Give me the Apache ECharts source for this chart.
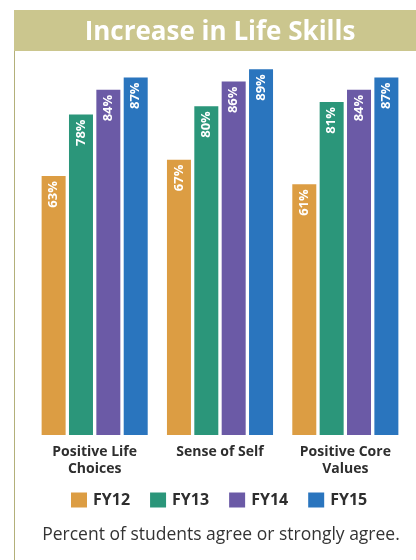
<!DOCTYPE html>
<html>
<head>
<meta charset="utf-8">
<script src="https://cdn.jsdelivr.net/npm/echarts@6/dist/echarts.min.js"></script>
<style>html,body{margin:0;padding:0;background:#fff;}#c{width:416px;height:560px;}</style>
</head>
<body>
<div id="c"></div>
<script>
const categories = ['Positive Life\nChoices', 'Sense of Self', 'Positive Core\nValues'];
const seriesNames = ['FY12', 'FY13', 'FY14', 'FY15'];
const fy12 = [63, 67, 61];
const fy13 = [78, 80, 81];
const fy14 = [84, 86, 84];
const fy15 = [87, 89, 87];
const colors = ['#dc9d43', '#2b967a', '#6b5aa6', '#2a75be'];
const values = [fy12, fy13, fy14, fy15];
const FONT = '"Open Sans", "Noto Sans", sans-serif';

const chart = echarts.init(document.getElementById('c'));
chart.setOption({
  animation: false,
  textStyle: { fontFamily: FONT },
  grid: { left: 32, right: 8, top: 24, bottom: 125 },
  xAxis: {
    type: 'category',
    data: categories,
    axisLine: { show: false },
    axisTick: { show: false },
    axisLabel: {
      color: '#2e2e2e', fontWeight: 'bold', fontSize: 14, lineHeight: 17,
      fontFamily: FONT, margin: 9
    }
  },
  yAxis: { type: 'value', min: 0, max: 100, show: false, splitLine: { show: false } },
  legend: {
    data: seriesNames,
    top: 487,
    left: 66,
    icon: 'rect',
    itemWidth: 16,
    itemHeight: 15,
    itemGap: 20,
    textStyle: { color: '#2e2e2e', fontWeight: 'bold', fontSize: 16, fontFamily: FONT, padding: [0, 0, 0, 1] }
  },
  graphic: [
    { type: 'rect', shape: { x: 14, y: 10, width: 402, height: 41 }, style: { fill: '#cbc68e' }, z: 10 },
    { type: 'text', x: 220, y: 33, z: 11,
      style: { text: 'Increase in Life Skills', fill: '#ffffff', font: 'bold 26px ' + FONT,
               align: 'center', verticalAlign: 'middle' } },
    { type: 'line', shape: { x1: 14.5, y1: 51, x2: 14.5, y2: 560 }, style: { stroke: '#b3b07a', lineWidth: 1 }, z: 10 },
    { type: 'text', x: 221, y: 535, z: 11,
      style: { text: 'Percent of students agree or strongly agree.', fill: '#333333', font: '17.5px ' + FONT,
               align: 'center', verticalAlign: 'middle' } }
  ],
  series: values.map((v, i) => ({
    name: seriesNames[i],
    type: 'bar',
    data: v,
    barWidth: 24,
    barGap: '14%',
    itemStyle: { color: colors[i] },
    label: {
      show: true,
      position: 'insideTop',
      rotate: 90,
      align: 'right',
      verticalAlign: 'middle',
      distance: 5,
      formatter: '{c}%',
      color: '#ffffff',
      fontWeight: 'bold',
      fontSize: 13,
      fontFamily: FONT
    }
  }))
});
</script>
</body>
</html>
